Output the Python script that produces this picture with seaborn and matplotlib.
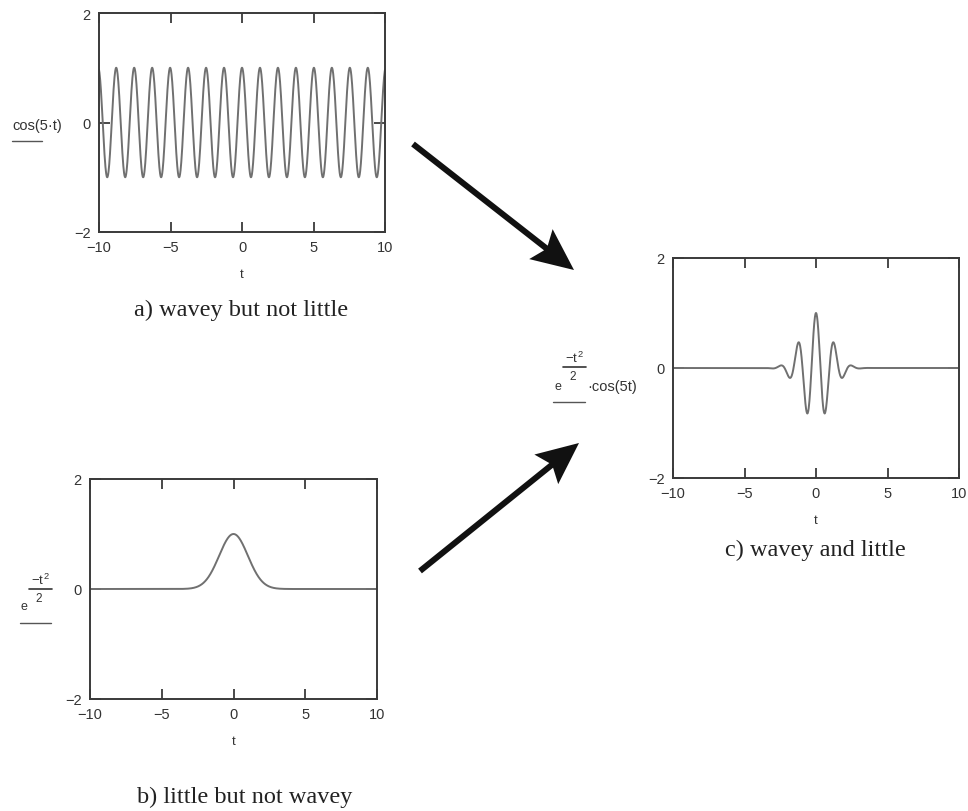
import numpy as np
import pandas as pd
import seaborn as sns
import matplotlib
matplotlib.use("Agg")
import matplotlib.pyplot as plt
from matplotlib.lines import Line2D
from matplotlib.patches import FancyArrow
from matplotlib.transforms import IdentityTransform

# Curve definitions: range of t, sample count, cosine frequency
T_MIN, T_MAX = -10, 10
N_SAMPLES = 1200
FREQ = 5
X_TICKS = [-10, -5, 0, 5, 10]
Y_TICKS = [-2, 0, 2]
CAPTIONS = ["a) wavey but not little", "b) little but not wavey", "c) wavey and little"]

t = np.linspace(T_MIN, T_MAX, N_SAMPLES)
wave = np.cos(FREQ * t)
envelope = np.exp(-t ** 2 / 2)
packet = envelope * np.cos(FREQ * t)

df = pd.DataFrame({"t": t, "wave": wave, "envelope": envelope, "packet": packet})

sns.set_theme(style="white")
plt.rcParams["font.family"] = ["Liberation Sans", "DejaVu Sans"]
plt.rcParams["mathtext.fontset"] = "custom"
plt.rcParams["mathtext.rm"] = "Liberation Sans"
plt.rcParams["mathtext.it"] = "Liberation Sans"

W, H = 968, 812
fig = plt.figure(figsize=(W / 100, H / 100), dpi=100)
fig.patch.set_facecolor("white")

CURVE = "#707070"
FRAME = "#3a3a3a"
TXT = "#333333"


def px_axes(left, top, right, bottom):
    return fig.add_axes([left / W, 1 - bottom / H, (right - left) / W, (bottom - top) / H])


def style(ax):
    ax.set_xlim(T_MIN, T_MAX)
    ax.set_ylim(-2, 2)
    ax.set_xticks(X_TICKS)
    ax.set_yticks(Y_TICKS)
    ax.set_xticklabels([str(v).replace("-", "\u2212") for v in X_TICKS])
    ax.set_yticklabels([str(v).replace("-", "\u2212") for v in Y_TICKS])
    ax.tick_params(axis="x", direction="in", length=7, width=1.3, top=True, bottom=True,
                   color=FRAME, labelsize=10.5, labelcolor=TXT, pad=6)
    ax.tick_params(axis="y", direction="in", length=8, width=1.3, left=True, right=True,
                   color=FRAME, labelsize=10.5, labelcolor=TXT, pad=6)
    for s in ax.spines.values():
        s.set_visible(True)
        s.set_color(FRAME)
        s.set_linewidth(1.4)
    ax.set_xlabel("t", fontsize=9.5, color=TXT, labelpad=10)
    ax.set_ylabel("")
    ax.set_facecolor("white")


def underline(x0, x1, y):
    fig.add_artist(Line2D([x0 / W, x1 / W], [1 - y / H, 1 - y / H],
                          color="#555555", lw=1.0, transform=fig.transFigure))


def ftext(x, y, s, **kw):
    base = dict(color=TXT, ha="center", va="center")
    base.update(kw)
    fig.text(x / W, 1 - y / H, s, **base)


def fraction_exp(ex, ey, nx, bar_y, bar_x0, bar_x1):
    ftext(ex, ey, "e", fontsize=9)
    ftext(nx, bar_y - 10, r"$-t^{2}$", fontsize=9.5)
    fig.add_artist(Line2D([bar_x0 / W, bar_x1 / W], [1 - bar_y / H, 1 - bar_y / H],
                          color=TXT, lw=1.2, transform=fig.transFigure))
    ftext(nx - 1, bar_y + 9, "2", fontsize=8.5)


# a) cos(5t)
ax_a = px_axes(99, 14, 385, 233)
sns.lineplot(data=df, x="t", y="wave", ax=ax_a, color=CURVE, lw=1.4)
style(ax_a)
ftext(37, 126, "cos(5\u00b7t)", fontsize=10.5)
underline(12, 42, 142)

# b) exp(-t^2/2)
ax_b = px_axes(90, 480, 377, 700)
sns.lineplot(data=df, x="t", y="envelope", ax=ax_b, color=CURVE, lw=1.4)
style(ax_b)
fraction_exp(24, 607, 40, 590, 29, 52)
underline(20, 51, 624)

# c) product
ax_c = px_axes(673, 259, 959, 479)
sns.lineplot(data=df, x="t", y="packet", ax=ax_c, color=CURVE, lw=1.4)
style(ax_c)
fraction_exp(558, 387, 574, 368, 563, 586)
ftext(587, 387, "\u00b7cos(5t)", fontsize=10.5, ha="left")
underline(553, 585, 403)

# captions
cap_kw = dict(fontsize=17.5, color="#222222", family=["Liberation Serif", "DejaVu Serif"])
ftext(241, 310, CAPTIONS[0], **cap_kw)
ftext(245, 797, CAPTIONS[1], **cap_kw)
ftext(815, 550, CAPTIONS[2], **cap_kw)


# arrows between panels, drawn in pixel space
def arrow(x0, y0, x1, y1):
    fig.add_artist(FancyArrow(x0, H - y0, x1 - x0, -(y1 - y0), width=6, head_width=38,
                              head_length=42, length_includes_head=True, overhang=0.15,
                              color="#111111", lw=0, transform=IdentityTransform()))


arrow(413, 145, 574, 271)
arrow(420, 572, 579, 444)

fig.savefig("out.png", dpi=100, facecolor="white")
